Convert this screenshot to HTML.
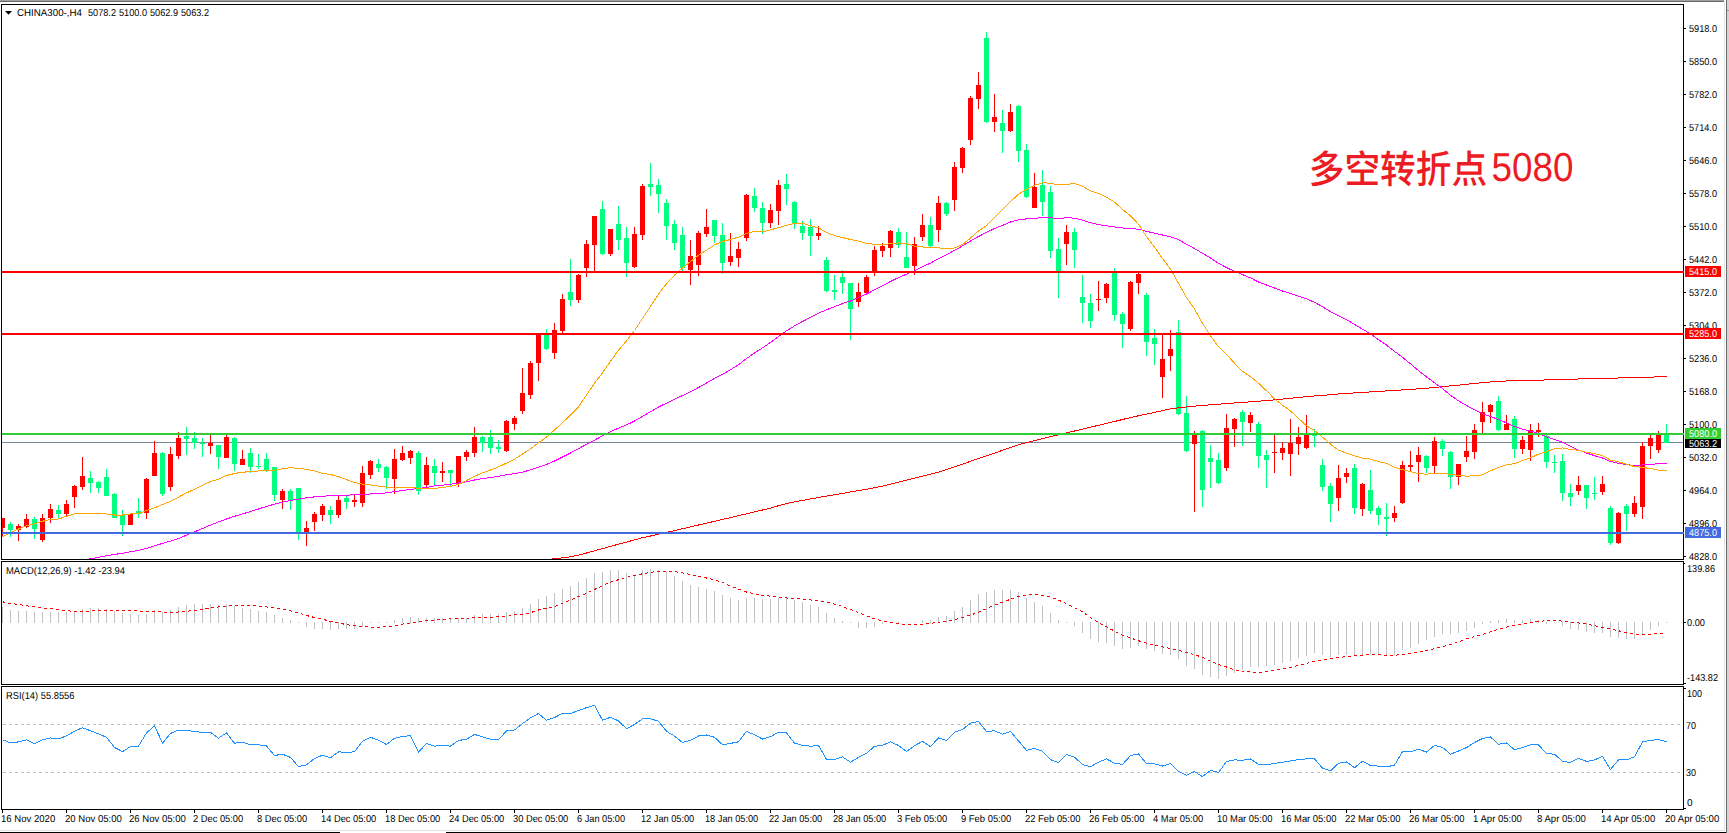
<!DOCTYPE html><html><head><meta charset="utf-8"><title>CHINA300 H4</title>
<style>html,body{margin:0;padding:0;background:#fff;overflow:hidden}svg{display:block}text{font-family:"Liberation Sans","Noto Sans CJK SC",sans-serif;font-size:10px;fill:#000;text-rendering:geometricPrecision}.cn{font-family:"Liberation Sans","Noto Sans CJK SC",sans-serif;font-size:35.7px;fill:#ed1c24;font-weight:500}</style></head><body>
<svg width="1729" height="833" viewBox="0 0 1729 833">
<defs><clipPath id="cm"><rect x="2" y="5" width="1681" height="554"/></clipPath><clipPath id="cd"><rect x="2" y="562" width="1681" height="122"/></clipPath><clipPath id="cr"><rect x="2" y="687" width="1681" height="122"/></clipPath></defs>
<rect x="0" y="0" width="1729" height="833" fill="#fff"/>
<g shape-rendering="crispEdges">
<rect x="0" y="0" width="1724" height="1" fill="#a0a0a0"/>
<rect x="0" y="1" width="1724" height="1" fill="#696969"/>
<rect x="1724" y="2" width="1" height="829" fill="#e3e3e3"/>
<rect x="1726" y="0" width="1" height="833" fill="#696969"/>
<rect x="1727" y="0" width="2" height="833" fill="#d4d4d4"/>
<rect x="1727" y="10" width="2" height="1" fill="#a0a0a0"/>
<rect x="0" y="830" width="1725" height="1" fill="#e3e3e3"/>
<rect x="0" y="832" width="340" height="1" fill="#000"/>
<rect x="446" y="832" width="1280" height="1" fill="#000"/>
<rect x="1.5" y="4.5" width="1682" height="555" fill="none" stroke="#000" stroke-width="1"/>
<rect x="1.5" y="561.5" width="1682" height="123" fill="none" stroke="#000" stroke-width="1"/>
<rect x="1.5" y="686.5" width="1682" height="123" fill="none" stroke="#000" stroke-width="1"/>
</g>
<g clip-path="url(#cm)" shape-rendering="crispEdges">
<rect x="2" y="442" width="1681" height="1" fill="#778899"/>
<rect x="2" y="518" width="1" height="19" fill="#ff0000"/>
<rect x="0" y="518" width="5" height="10" fill="#ff0000"/>
<rect x="10" y="522" width="1" height="15" fill="#00ff7f"/>
<rect x="8" y="524" width="5" height="6" fill="#00ff7f"/>
<rect x="18" y="524" width="1" height="17" fill="#ff0000"/>
<rect x="16" y="526" width="5" height="4" fill="#ff0000"/>
<rect x="26" y="514" width="1" height="14" fill="#ff0000"/>
<rect x="24" y="519" width="5" height="8" fill="#ff0000"/>
<rect x="34" y="517" width="1" height="22" fill="#00ff7f"/>
<rect x="32" y="519" width="5" height="10" fill="#00ff7f"/>
<rect x="42" y="514" width="1" height="28" fill="#ff0000"/>
<rect x="40" y="518" width="5" height="22" fill="#ff0000"/>
<rect x="50" y="504" width="1" height="19" fill="#ff0000"/>
<rect x="48" y="509" width="5" height="9" fill="#ff0000"/>
<rect x="58" y="505" width="1" height="13" fill="#00ff7f"/>
<rect x="56" y="510" width="5" height="4" fill="#00ff7f"/>
<rect x="66" y="500" width="1" height="16" fill="#ff0000"/>
<rect x="64" y="504" width="5" height="10" fill="#ff0000"/>
<rect x="74" y="485" width="1" height="23" fill="#ff0000"/>
<rect x="72" y="486" width="5" height="11" fill="#ff0000"/>
<rect x="82" y="457" width="1" height="33" fill="#ff0000"/>
<rect x="80" y="476" width="5" height="11" fill="#ff0000"/>
<rect x="90" y="471" width="1" height="22" fill="#00ff7f"/>
<rect x="88" y="478" width="5" height="5" fill="#00ff7f"/>
<rect x="98" y="481" width="1" height="12" fill="#00ff7f"/>
<rect x="96" y="482" width="5" height="6" fill="#00ff7f"/>
<rect x="106" y="469" width="1" height="27" fill="#00ff7f"/>
<rect x="104" y="477" width="5" height="19" fill="#00ff7f"/>
<rect x="114" y="493" width="1" height="25" fill="#00ff7f"/>
<rect x="112" y="494" width="5" height="24" fill="#00ff7f"/>
<rect x="122" y="510" width="1" height="26" fill="#00ff7f"/>
<rect x="120" y="515" width="5" height="10" fill="#00ff7f"/>
<rect x="130" y="514" width="1" height="11" fill="#ff0000"/>
<rect x="128" y="514" width="5" height="11" fill="#ff0000"/>
<rect x="138" y="498" width="1" height="20" fill="#00ff7f"/>
<rect x="136" y="511" width="5" height="3" fill="#00ff7f"/>
<rect x="146" y="478" width="1" height="41" fill="#ff0000"/>
<rect x="144" y="479" width="5" height="34" fill="#ff0000"/>
<rect x="154" y="441" width="1" height="35" fill="#ff0000"/>
<rect x="152" y="453" width="5" height="23" fill="#ff0000"/>
<rect x="162" y="452" width="1" height="44" fill="#00ff7f"/>
<rect x="160" y="453" width="5" height="41" fill="#00ff7f"/>
<rect x="170" y="447" width="1" height="44" fill="#ff0000"/>
<rect x="168" y="454" width="5" height="33" fill="#ff0000"/>
<rect x="178" y="432" width="1" height="27" fill="#ff0000"/>
<rect x="176" y="438" width="5" height="18" fill="#ff0000"/>
<rect x="186" y="427" width="1" height="28" fill="#00ff7f"/>
<rect x="184" y="436" width="5" height="3" fill="#00ff7f"/>
<rect x="194" y="432" width="1" height="17" fill="#00ff7f"/>
<rect x="192" y="438" width="5" height="5" fill="#00ff7f"/>
<rect x="202" y="438" width="1" height="19" fill="#00ff7f"/>
<rect x="200" y="443" width="5" height="1" fill="#00ff7f"/>
<rect x="210" y="435" width="1" height="19" fill="#ff0000"/>
<rect x="208" y="443" width="5" height="3" fill="#ff0000"/>
<rect x="218" y="445" width="1" height="24" fill="#00ff7f"/>
<rect x="216" y="445" width="5" height="12" fill="#00ff7f"/>
<rect x="226" y="435" width="1" height="23" fill="#ff0000"/>
<rect x="224" y="437" width="5" height="21" fill="#ff0000"/>
<rect x="234" y="437" width="1" height="34" fill="#00ff7f"/>
<rect x="232" y="438" width="5" height="26" fill="#00ff7f"/>
<rect x="242" y="450" width="1" height="15" fill="#ff0000"/>
<rect x="240" y="459" width="5" height="6" fill="#ff0000"/>
<rect x="250" y="448" width="1" height="25" fill="#00ff7f"/>
<rect x="248" y="453" width="5" height="14" fill="#00ff7f"/>
<rect x="258" y="454" width="1" height="15" fill="#00ff7f"/>
<rect x="256" y="466" width="5" height="1" fill="#00ff7f"/>
<rect x="266" y="453" width="1" height="19" fill="#00ff7f"/>
<rect x="264" y="459" width="5" height="11" fill="#00ff7f"/>
<rect x="274" y="467" width="1" height="34" fill="#00ff7f"/>
<rect x="272" y="467" width="5" height="28" fill="#00ff7f"/>
<rect x="282" y="489" width="1" height="20" fill="#ff0000"/>
<rect x="280" y="491" width="5" height="9" fill="#ff0000"/>
<rect x="290" y="489" width="1" height="21" fill="#00ff7f"/>
<rect x="288" y="491" width="5" height="10" fill="#00ff7f"/>
<rect x="298" y="488" width="1" height="52" fill="#00ff7f"/>
<rect x="296" y="488" width="5" height="45" fill="#00ff7f"/>
<rect x="306" y="521" width="1" height="25" fill="#ff0000"/>
<rect x="304" y="528" width="5" height="5" fill="#ff0000"/>
<rect x="314" y="512" width="1" height="19" fill="#ff0000"/>
<rect x="312" y="514" width="5" height="8" fill="#ff0000"/>
<rect x="322" y="504" width="1" height="17" fill="#ff0000"/>
<rect x="320" y="506" width="5" height="9" fill="#ff0000"/>
<rect x="330" y="506" width="1" height="18" fill="#00ff7f"/>
<rect x="328" y="510" width="5" height="5" fill="#00ff7f"/>
<rect x="338" y="495" width="1" height="23" fill="#ff0000"/>
<rect x="336" y="500" width="5" height="15" fill="#ff0000"/>
<rect x="346" y="495" width="1" height="14" fill="#00ff7f"/>
<rect x="344" y="498" width="5" height="4" fill="#00ff7f"/>
<rect x="354" y="495" width="1" height="12" fill="#ff0000"/>
<rect x="352" y="500" width="5" height="2" fill="#ff0000"/>
<rect x="362" y="466" width="1" height="41" fill="#ff0000"/>
<rect x="360" y="473" width="5" height="30" fill="#ff0000"/>
<rect x="370" y="460" width="1" height="19" fill="#ff0000"/>
<rect x="368" y="461" width="5" height="14" fill="#ff0000"/>
<rect x="378" y="459" width="1" height="13" fill="#00ff7f"/>
<rect x="376" y="464" width="5" height="4" fill="#00ff7f"/>
<rect x="386" y="466" width="1" height="23" fill="#00ff7f"/>
<rect x="384" y="467" width="5" height="11" fill="#00ff7f"/>
<rect x="394" y="449" width="1" height="45" fill="#ff0000"/>
<rect x="392" y="459" width="5" height="20" fill="#ff0000"/>
<rect x="402" y="446" width="1" height="15" fill="#ff0000"/>
<rect x="400" y="453" width="5" height="7" fill="#ff0000"/>
<rect x="410" y="450" width="1" height="14" fill="#ff0000"/>
<rect x="408" y="451" width="5" height="7" fill="#ff0000"/>
<rect x="418" y="451" width="1" height="44" fill="#00ff7f"/>
<rect x="416" y="453" width="5" height="38" fill="#00ff7f"/>
<rect x="426" y="457" width="1" height="30" fill="#ff0000"/>
<rect x="424" y="465" width="5" height="20" fill="#ff0000"/>
<rect x="434" y="459" width="1" height="27" fill="#00ff7f"/>
<rect x="432" y="466" width="5" height="7" fill="#00ff7f"/>
<rect x="442" y="462" width="1" height="20" fill="#ff0000"/>
<rect x="440" y="471" width="5" height="2" fill="#ff0000"/>
<rect x="450" y="470" width="1" height="16" fill="#00ff7f"/>
<rect x="448" y="470" width="5" height="3" fill="#00ff7f"/>
<rect x="458" y="456" width="1" height="31" fill="#ff0000"/>
<rect x="456" y="456" width="5" height="27" fill="#ff0000"/>
<rect x="466" y="450" width="1" height="11" fill="#ff0000"/>
<rect x="464" y="452" width="5" height="5" fill="#ff0000"/>
<rect x="474" y="427" width="1" height="30" fill="#ff0000"/>
<rect x="472" y="437" width="5" height="16" fill="#ff0000"/>
<rect x="482" y="436" width="1" height="16" fill="#00ff7f"/>
<rect x="480" y="437" width="5" height="6" fill="#00ff7f"/>
<rect x="490" y="430" width="1" height="24" fill="#00ff7f"/>
<rect x="488" y="437" width="5" height="11" fill="#00ff7f"/>
<rect x="498" y="440" width="1" height="13" fill="#00ff7f"/>
<rect x="496" y="447" width="5" height="2" fill="#00ff7f"/>
<rect x="506" y="420" width="1" height="32" fill="#ff0000"/>
<rect x="504" y="421" width="5" height="30" fill="#ff0000"/>
<rect x="514" y="416" width="1" height="14" fill="#ff0000"/>
<rect x="512" y="418" width="5" height="6" fill="#ff0000"/>
<rect x="522" y="368" width="1" height="46" fill="#ff0000"/>
<rect x="520" y="393" width="5" height="18" fill="#ff0000"/>
<rect x="530" y="361" width="1" height="38" fill="#ff0000"/>
<rect x="528" y="363" width="5" height="32" fill="#ff0000"/>
<rect x="538" y="334" width="1" height="47" fill="#ff0000"/>
<rect x="536" y="334" width="5" height="29" fill="#ff0000"/>
<rect x="546" y="329" width="1" height="21" fill="#00ff7f"/>
<rect x="544" y="335" width="5" height="14" fill="#00ff7f"/>
<rect x="554" y="323" width="1" height="36" fill="#ff0000"/>
<rect x="552" y="330" width="5" height="23" fill="#ff0000"/>
<rect x="562" y="294" width="1" height="40" fill="#ff0000"/>
<rect x="560" y="299" width="5" height="32" fill="#ff0000"/>
<rect x="570" y="259" width="1" height="47" fill="#00ff7f"/>
<rect x="568" y="292" width="5" height="8" fill="#00ff7f"/>
<rect x="578" y="274" width="1" height="29" fill="#ff0000"/>
<rect x="576" y="275" width="5" height="25" fill="#ff0000"/>
<rect x="586" y="240" width="1" height="37" fill="#ff0000"/>
<rect x="584" y="244" width="5" height="24" fill="#ff0000"/>
<rect x="594" y="216" width="1" height="56" fill="#ff0000"/>
<rect x="592" y="216" width="5" height="29" fill="#ff0000"/>
<rect x="602" y="201" width="1" height="54" fill="#00ff7f"/>
<rect x="600" y="209" width="5" height="45" fill="#00ff7f"/>
<rect x="610" y="229" width="1" height="27" fill="#ff0000"/>
<rect x="608" y="229" width="5" height="25" fill="#ff0000"/>
<rect x="618" y="206" width="1" height="44" fill="#00ff7f"/>
<rect x="616" y="224" width="5" height="16" fill="#00ff7f"/>
<rect x="626" y="227" width="1" height="50" fill="#00ff7f"/>
<rect x="624" y="238" width="5" height="25" fill="#00ff7f"/>
<rect x="634" y="227" width="1" height="41" fill="#ff0000"/>
<rect x="632" y="234" width="5" height="33" fill="#ff0000"/>
<rect x="642" y="184" width="1" height="56" fill="#ff0000"/>
<rect x="640" y="186" width="5" height="49" fill="#ff0000"/>
<rect x="650" y="163" width="1" height="33" fill="#00ff7f"/>
<rect x="648" y="184" width="5" height="3" fill="#00ff7f"/>
<rect x="658" y="179" width="1" height="34" fill="#00ff7f"/>
<rect x="656" y="185" width="5" height="9" fill="#00ff7f"/>
<rect x="666" y="199" width="1" height="41" fill="#00ff7f"/>
<rect x="664" y="203" width="5" height="23" fill="#00ff7f"/>
<rect x="674" y="220" width="1" height="30" fill="#00ff7f"/>
<rect x="672" y="224" width="5" height="19" fill="#00ff7f"/>
<rect x="682" y="227" width="1" height="44" fill="#00ff7f"/>
<rect x="680" y="235" width="5" height="33" fill="#00ff7f"/>
<rect x="690" y="240" width="1" height="45" fill="#ff0000"/>
<rect x="688" y="256" width="5" height="14" fill="#ff0000"/>
<rect x="698" y="231" width="1" height="45" fill="#ff0000"/>
<rect x="696" y="233" width="5" height="32" fill="#ff0000"/>
<rect x="706" y="209" width="1" height="28" fill="#ff0000"/>
<rect x="704" y="227" width="5" height="7" fill="#ff0000"/>
<rect x="714" y="220" width="1" height="23" fill="#00ff7f"/>
<rect x="712" y="220" width="5" height="16" fill="#00ff7f"/>
<rect x="722" y="223" width="1" height="51" fill="#00ff7f"/>
<rect x="720" y="235" width="5" height="28" fill="#00ff7f"/>
<rect x="730" y="233" width="1" height="33" fill="#ff0000"/>
<rect x="728" y="256" width="5" height="6" fill="#ff0000"/>
<rect x="738" y="242" width="1" height="25" fill="#ff0000"/>
<rect x="736" y="249" width="5" height="9" fill="#ff0000"/>
<rect x="746" y="194" width="1" height="47" fill="#ff0000"/>
<rect x="744" y="195" width="5" height="43" fill="#ff0000"/>
<rect x="754" y="188" width="1" height="24" fill="#00ff7f"/>
<rect x="752" y="196" width="5" height="12" fill="#00ff7f"/>
<rect x="762" y="202" width="1" height="32" fill="#00ff7f"/>
<rect x="760" y="208" width="5" height="15" fill="#00ff7f"/>
<rect x="770" y="204" width="1" height="24" fill="#ff0000"/>
<rect x="768" y="210" width="5" height="13" fill="#ff0000"/>
<rect x="778" y="180" width="1" height="45" fill="#ff0000"/>
<rect x="776" y="185" width="5" height="26" fill="#ff0000"/>
<rect x="786" y="174" width="1" height="31" fill="#00ff7f"/>
<rect x="784" y="184" width="5" height="5" fill="#00ff7f"/>
<rect x="794" y="201" width="1" height="28" fill="#00ff7f"/>
<rect x="792" y="202" width="5" height="22" fill="#00ff7f"/>
<rect x="802" y="221" width="1" height="19" fill="#00ff7f"/>
<rect x="800" y="226" width="5" height="7" fill="#00ff7f"/>
<rect x="810" y="219" width="1" height="37" fill="#00ff7f"/>
<rect x="808" y="227" width="5" height="9" fill="#00ff7f"/>
<rect x="818" y="226" width="1" height="14" fill="#ff0000"/>
<rect x="816" y="233" width="5" height="3" fill="#ff0000"/>
<rect x="826" y="257" width="1" height="35" fill="#00ff7f"/>
<rect x="824" y="260" width="5" height="31" fill="#00ff7f"/>
<rect x="834" y="275" width="1" height="25" fill="#00ff7f"/>
<rect x="832" y="290" width="5" height="2" fill="#00ff7f"/>
<rect x="842" y="270" width="1" height="24" fill="#00ff7f"/>
<rect x="840" y="277" width="5" height="6" fill="#00ff7f"/>
<rect x="850" y="283" width="1" height="57" fill="#00ff7f"/>
<rect x="848" y="283" width="5" height="26" fill="#00ff7f"/>
<rect x="858" y="283" width="1" height="24" fill="#ff0000"/>
<rect x="856" y="292" width="5" height="10" fill="#ff0000"/>
<rect x="866" y="275" width="1" height="19" fill="#ff0000"/>
<rect x="864" y="277" width="5" height="16" fill="#ff0000"/>
<rect x="874" y="246" width="1" height="30" fill="#ff0000"/>
<rect x="872" y="250" width="5" height="22" fill="#ff0000"/>
<rect x="882" y="243" width="1" height="14" fill="#ff0000"/>
<rect x="880" y="246" width="5" height="5" fill="#ff0000"/>
<rect x="890" y="230" width="1" height="27" fill="#ff0000"/>
<rect x="888" y="231" width="5" height="17" fill="#ff0000"/>
<rect x="898" y="228" width="1" height="20" fill="#00ff7f"/>
<rect x="896" y="232" width="5" height="13" fill="#00ff7f"/>
<rect x="906" y="232" width="1" height="36" fill="#00ff7f"/>
<rect x="904" y="257" width="5" height="11" fill="#00ff7f"/>
<rect x="914" y="237" width="1" height="38" fill="#ff0000"/>
<rect x="912" y="244" width="5" height="22" fill="#ff0000"/>
<rect x="922" y="214" width="1" height="27" fill="#ff0000"/>
<rect x="920" y="225" width="5" height="12" fill="#ff0000"/>
<rect x="930" y="217" width="1" height="31" fill="#00ff7f"/>
<rect x="928" y="225" width="5" height="21" fill="#00ff7f"/>
<rect x="938" y="196" width="1" height="46" fill="#ff0000"/>
<rect x="936" y="203" width="5" height="27" fill="#ff0000"/>
<rect x="946" y="202" width="1" height="14" fill="#00ff7f"/>
<rect x="944" y="203" width="5" height="11" fill="#00ff7f"/>
<rect x="954" y="162" width="1" height="49" fill="#ff0000"/>
<rect x="952" y="167" width="5" height="33" fill="#ff0000"/>
<rect x="962" y="147" width="1" height="26" fill="#ff0000"/>
<rect x="960" y="148" width="5" height="20" fill="#ff0000"/>
<rect x="970" y="96" width="1" height="49" fill="#ff0000"/>
<rect x="968" y="98" width="5" height="42" fill="#ff0000"/>
<rect x="978" y="72" width="1" height="37" fill="#ff0000"/>
<rect x="976" y="85" width="5" height="14" fill="#ff0000"/>
<rect x="986" y="32" width="1" height="91" fill="#00ff7f"/>
<rect x="984" y="38" width="5" height="84" fill="#00ff7f"/>
<rect x="994" y="94" width="1" height="38" fill="#ff0000"/>
<rect x="992" y="117" width="5" height="5" fill="#ff0000"/>
<rect x="1002" y="110" width="1" height="43" fill="#00ff7f"/>
<rect x="1000" y="123" width="5" height="8" fill="#00ff7f"/>
<rect x="1010" y="104" width="1" height="28" fill="#ff0000"/>
<rect x="1008" y="112" width="5" height="19" fill="#ff0000"/>
<rect x="1018" y="105" width="1" height="57" fill="#00ff7f"/>
<rect x="1016" y="106" width="5" height="45" fill="#00ff7f"/>
<rect x="1026" y="144" width="1" height="54" fill="#00ff7f"/>
<rect x="1024" y="150" width="5" height="47" fill="#00ff7f"/>
<rect x="1034" y="173" width="1" height="35" fill="#ff0000"/>
<rect x="1032" y="187" width="5" height="21" fill="#ff0000"/>
<rect x="1042" y="170" width="1" height="46" fill="#00ff7f"/>
<rect x="1040" y="185" width="5" height="17" fill="#00ff7f"/>
<rect x="1050" y="186" width="1" height="72" fill="#00ff7f"/>
<rect x="1048" y="192" width="5" height="59" fill="#00ff7f"/>
<rect x="1058" y="238" width="1" height="60" fill="#00ff7f"/>
<rect x="1056" y="249" width="5" height="23" fill="#00ff7f"/>
<rect x="1066" y="225" width="1" height="40" fill="#ff0000"/>
<rect x="1064" y="232" width="5" height="12" fill="#ff0000"/>
<rect x="1074" y="228" width="1" height="40" fill="#00ff7f"/>
<rect x="1072" y="232" width="5" height="18" fill="#00ff7f"/>
<rect x="1082" y="275" width="1" height="48" fill="#00ff7f"/>
<rect x="1080" y="297" width="5" height="6" fill="#00ff7f"/>
<rect x="1090" y="294" width="1" height="34" fill="#00ff7f"/>
<rect x="1088" y="303" width="5" height="18" fill="#00ff7f"/>
<rect x="1098" y="281" width="1" height="30" fill="#ff0000"/>
<rect x="1096" y="299" width="5" height="1" fill="#ff0000"/>
<rect x="1106" y="283" width="1" height="20" fill="#ff0000"/>
<rect x="1104" y="284" width="5" height="14" fill="#ff0000"/>
<rect x="1114" y="268" width="1" height="53" fill="#00ff7f"/>
<rect x="1112" y="273" width="5" height="42" fill="#00ff7f"/>
<rect x="1122" y="312" width="1" height="36" fill="#00ff7f"/>
<rect x="1120" y="314" width="5" height="10" fill="#00ff7f"/>
<rect x="1130" y="281" width="1" height="50" fill="#ff0000"/>
<rect x="1128" y="282" width="5" height="47" fill="#ff0000"/>
<rect x="1138" y="272" width="1" height="22" fill="#ff0000"/>
<rect x="1136" y="274" width="5" height="9" fill="#ff0000"/>
<rect x="1146" y="293" width="1" height="63" fill="#00ff7f"/>
<rect x="1144" y="295" width="5" height="47" fill="#00ff7f"/>
<rect x="1154" y="329" width="1" height="36" fill="#00ff7f"/>
<rect x="1152" y="338" width="5" height="6" fill="#00ff7f"/>
<rect x="1162" y="335" width="1" height="63" fill="#ff0000"/>
<rect x="1160" y="359" width="5" height="18" fill="#ff0000"/>
<rect x="1170" y="330" width="1" height="41" fill="#ff0000"/>
<rect x="1168" y="349" width="5" height="7" fill="#ff0000"/>
<rect x="1178" y="320" width="1" height="95" fill="#00ff7f"/>
<rect x="1176" y="332" width="5" height="82" fill="#00ff7f"/>
<rect x="1186" y="396" width="1" height="56" fill="#00ff7f"/>
<rect x="1184" y="413" width="5" height="38" fill="#00ff7f"/>
<rect x="1194" y="431" width="1" height="81" fill="#ff0000"/>
<rect x="1192" y="435" width="5" height="9" fill="#ff0000"/>
<rect x="1202" y="430" width="1" height="77" fill="#00ff7f"/>
<rect x="1200" y="431" width="5" height="59" fill="#00ff7f"/>
<rect x="1210" y="445" width="1" height="43" fill="#00ff7f"/>
<rect x="1208" y="458" width="5" height="4" fill="#00ff7f"/>
<rect x="1218" y="453" width="1" height="31" fill="#00ff7f"/>
<rect x="1216" y="460" width="5" height="23" fill="#00ff7f"/>
<rect x="1226" y="414" width="1" height="57" fill="#ff0000"/>
<rect x="1224" y="428" width="5" height="40" fill="#ff0000"/>
<rect x="1234" y="418" width="1" height="29" fill="#ff0000"/>
<rect x="1232" y="419" width="5" height="10" fill="#ff0000"/>
<rect x="1242" y="410" width="1" height="36" fill="#00ff7f"/>
<rect x="1240" y="412" width="5" height="10" fill="#00ff7f"/>
<rect x="1250" y="412" width="1" height="20" fill="#ff0000"/>
<rect x="1248" y="415" width="5" height="8" fill="#ff0000"/>
<rect x="1258" y="422" width="1" height="46" fill="#00ff7f"/>
<rect x="1256" y="424" width="5" height="32" fill="#00ff7f"/>
<rect x="1266" y="450" width="1" height="38" fill="#00ff7f"/>
<rect x="1264" y="455" width="5" height="5" fill="#00ff7f"/>
<rect x="1274" y="435" width="1" height="38" fill="#ff0000"/>
<rect x="1272" y="452" width="5" height="1" fill="#ff0000"/>
<rect x="1282" y="442" width="1" height="18" fill="#ff0000"/>
<rect x="1280" y="448" width="5" height="5" fill="#ff0000"/>
<rect x="1290" y="419" width="1" height="57" fill="#ff0000"/>
<rect x="1288" y="443" width="5" height="11" fill="#ff0000"/>
<rect x="1298" y="427" width="1" height="28" fill="#ff0000"/>
<rect x="1296" y="437" width="5" height="7" fill="#ff0000"/>
<rect x="1306" y="415" width="1" height="34" fill="#ff0000"/>
<rect x="1304" y="435" width="5" height="13" fill="#ff0000"/>
<rect x="1314" y="429" width="1" height="18" fill="#00ff7f"/>
<rect x="1312" y="434" width="5" height="2" fill="#00ff7f"/>
<rect x="1322" y="459" width="1" height="32" fill="#00ff7f"/>
<rect x="1320" y="465" width="5" height="22" fill="#00ff7f"/>
<rect x="1330" y="483" width="1" height="39" fill="#00ff7f"/>
<rect x="1328" y="486" width="5" height="18" fill="#00ff7f"/>
<rect x="1338" y="465" width="1" height="46" fill="#ff0000"/>
<rect x="1336" y="478" width="5" height="20" fill="#ff0000"/>
<rect x="1346" y="468" width="1" height="15" fill="#ff0000"/>
<rect x="1344" y="473" width="5" height="4" fill="#ff0000"/>
<rect x="1354" y="464" width="1" height="50" fill="#00ff7f"/>
<rect x="1352" y="468" width="5" height="40" fill="#00ff7f"/>
<rect x="1362" y="483" width="1" height="33" fill="#ff0000"/>
<rect x="1360" y="484" width="5" height="25" fill="#ff0000"/>
<rect x="1370" y="470" width="1" height="44" fill="#00ff7f"/>
<rect x="1368" y="490" width="5" height="21" fill="#00ff7f"/>
<rect x="1378" y="506" width="1" height="19" fill="#00ff7f"/>
<rect x="1376" y="508" width="5" height="7" fill="#00ff7f"/>
<rect x="1386" y="503" width="1" height="33" fill="#00ff7f"/>
<rect x="1384" y="517" width="5" height="2" fill="#00ff7f"/>
<rect x="1394" y="506" width="1" height="16" fill="#ff0000"/>
<rect x="1392" y="513" width="5" height="5" fill="#ff0000"/>
<rect x="1402" y="461" width="1" height="43" fill="#ff0000"/>
<rect x="1400" y="465" width="5" height="38" fill="#ff0000"/>
<rect x="1410" y="451" width="1" height="20" fill="#ff0000"/>
<rect x="1408" y="465" width="5" height="2" fill="#ff0000"/>
<rect x="1418" y="447" width="1" height="35" fill="#ff0000"/>
<rect x="1416" y="455" width="5" height="7" fill="#ff0000"/>
<rect x="1426" y="455" width="1" height="18" fill="#00ff7f"/>
<rect x="1424" y="456" width="5" height="12" fill="#00ff7f"/>
<rect x="1434" y="437" width="1" height="37" fill="#ff0000"/>
<rect x="1432" y="441" width="5" height="25" fill="#ff0000"/>
<rect x="1442" y="439" width="1" height="17" fill="#00ff7f"/>
<rect x="1440" y="441" width="5" height="8" fill="#00ff7f"/>
<rect x="1450" y="451" width="1" height="38" fill="#00ff7f"/>
<rect x="1448" y="452" width="5" height="25" fill="#00ff7f"/>
<rect x="1458" y="464" width="1" height="21" fill="#ff0000"/>
<rect x="1456" y="464" width="5" height="13" fill="#ff0000"/>
<rect x="1466" y="436" width="1" height="26" fill="#ff0000"/>
<rect x="1464" y="451" width="5" height="6" fill="#ff0000"/>
<rect x="1474" y="424" width="1" height="35" fill="#ff0000"/>
<rect x="1472" y="430" width="5" height="22" fill="#ff0000"/>
<rect x="1482" y="402" width="1" height="31" fill="#ff0000"/>
<rect x="1480" y="412" width="5" height="10" fill="#ff0000"/>
<rect x="1490" y="404" width="1" height="19" fill="#ff0000"/>
<rect x="1488" y="405" width="5" height="7" fill="#ff0000"/>
<rect x="1498" y="396" width="1" height="35" fill="#00ff7f"/>
<rect x="1496" y="401" width="5" height="29" fill="#00ff7f"/>
<rect x="1506" y="415" width="1" height="15" fill="#ff0000"/>
<rect x="1504" y="424" width="5" height="6" fill="#ff0000"/>
<rect x="1514" y="416" width="1" height="42" fill="#00ff7f"/>
<rect x="1512" y="419" width="5" height="30" fill="#00ff7f"/>
<rect x="1522" y="436" width="1" height="18" fill="#ff0000"/>
<rect x="1520" y="440" width="5" height="9" fill="#ff0000"/>
<rect x="1530" y="424" width="1" height="37" fill="#ff0000"/>
<rect x="1528" y="430" width="5" height="20" fill="#ff0000"/>
<rect x="1538" y="423" width="1" height="14" fill="#ff0000"/>
<rect x="1536" y="430" width="5" height="2" fill="#ff0000"/>
<rect x="1546" y="435" width="1" height="33" fill="#00ff7f"/>
<rect x="1544" y="436" width="5" height="26" fill="#00ff7f"/>
<rect x="1554" y="455" width="1" height="18" fill="#00ff7f"/>
<rect x="1552" y="462" width="5" height="1" fill="#00ff7f"/>
<rect x="1562" y="454" width="1" height="47" fill="#00ff7f"/>
<rect x="1560" y="461" width="5" height="32" fill="#00ff7f"/>
<rect x="1570" y="484" width="1" height="22" fill="#00ff7f"/>
<rect x="1568" y="493" width="5" height="4" fill="#00ff7f"/>
<rect x="1578" y="476" width="1" height="19" fill="#ff0000"/>
<rect x="1576" y="485" width="5" height="6" fill="#ff0000"/>
<rect x="1586" y="485" width="1" height="24" fill="#00ff7f"/>
<rect x="1584" y="485" width="5" height="13" fill="#00ff7f"/>
<rect x="1594" y="477" width="1" height="23" fill="#00ff7f"/>
<rect x="1592" y="493" width="5" height="1" fill="#00ff7f"/>
<rect x="1602" y="476" width="1" height="19" fill="#ff0000"/>
<rect x="1600" y="484" width="5" height="8" fill="#ff0000"/>
<rect x="1610" y="506" width="1" height="39" fill="#00ff7f"/>
<rect x="1608" y="508" width="5" height="35" fill="#00ff7f"/>
<rect x="1618" y="512" width="1" height="32" fill="#ff0000"/>
<rect x="1616" y="513" width="5" height="30" fill="#ff0000"/>
<rect x="1626" y="504" width="1" height="27" fill="#00ff7f"/>
<rect x="1624" y="506" width="5" height="8" fill="#00ff7f"/>
<rect x="1634" y="496" width="1" height="21" fill="#ff0000"/>
<rect x="1632" y="503" width="5" height="11" fill="#ff0000"/>
<rect x="1642" y="442" width="1" height="77" fill="#ff0000"/>
<rect x="1640" y="446" width="5" height="61" fill="#ff0000"/>
<rect x="1650" y="435" width="1" height="24" fill="#ff0000"/>
<rect x="1648" y="438" width="5" height="8" fill="#ff0000"/>
<rect x="1658" y="431" width="1" height="22" fill="#ff0000"/>
<rect x="1656" y="435" width="5" height="15" fill="#ff0000"/>
<rect x="1666" y="424" width="1" height="19" fill="#00ff7f"/>
<rect x="1664" y="435" width="5" height="8" fill="#00ff7f"/>
</g>
<g clip-path="url(#cm)" fill="none" stroke-width="1" shape-rendering="crispEdges">
<polyline points="2.5,566.5 10.5,566.5 18.5,566.5 26.5,566.5 34.5,566.5 42.5,566.5 50.5,566.5 58.5,566.5 66.5,566.5 74.5,566.5 82.5,566.5 90.5,566.5 98.5,566.5 106.5,566.5 114.5,566.5 122.5,566.5 130.5,566.5 138.5,566.5 146.5,566.5 154.5,566.5 162.5,566.5 170.5,566.5 178.5,566.5 186.5,566.5 194.5,566.5 202.5,566.5 210.5,566.5 218.5,566.5 226.5,566.5 234.5,566.5 242.5,566.5 250.5,566.5 258.5,566.5 266.5,566.5 274.5,566.5 282.5,566.5 290.5,566.5 298.5,566.5 306.5,566.5 314.5,566.5 322.5,566.5 330.5,566.5 338.5,566.5 346.5,566.5 354.5,566.5 362.5,566.5 370.5,566.5 378.5,566.5 386.5,566.5 394.5,566.5 402.5,566.5 410.5,566.5 418.5,566.5 426.5,566.5 434.5,566.5 442.5,566.5 450.5,566.5 458.5,566.5 466.5,566.5 474.5,566.5 482.5,566.5 490.5,566.5 498.5,566.5 506.5,565.6 514.5,564.5 522.5,563.3 530.5,562.1 538.5,561.0 546.5,559.8 554.5,558.7 562.5,557.8 570.5,556.8 578.5,555.1 586.5,553.0 594.5,550.8 602.5,548.6 610.5,546.4 618.5,544.2 626.5,542.1 634.5,539.9 642.5,537.7 650.5,536.0 658.5,534.2 666.5,532.4 674.5,530.6 682.5,528.7 690.5,526.9 698.5,525.0 706.5,523.2 714.5,521.3 722.5,519.4 730.5,517.6 738.5,515.7 746.5,513.8 754.5,511.9 762.5,510.0 770.5,508.1 778.5,505.7 786.5,503.5 794.5,502.0 802.5,500.4 810.5,498.9 818.5,497.5 826.5,496.1 834.5,494.7 842.5,493.4 850.5,492.0 858.5,490.6 866.5,489.2 874.5,487.8 882.5,486.1 890.5,484.1 898.5,482.1 906.5,480.1 914.5,478.1 922.5,476.1 930.5,474.1 938.5,472.1 946.5,469.5 954.5,466.8 962.5,464.1 970.5,461.3 978.5,458.6 986.5,455.8 994.5,453.1 1002.5,450.3 1010.5,447.6 1018.5,444.8 1026.5,442.6 1034.5,440.6 1042.5,438.7 1050.5,436.7 1058.5,434.8 1066.5,432.9 1074.5,431.0 1082.5,429.1 1090.5,427.2 1098.5,425.3 1106.5,423.4 1114.5,421.5 1122.5,419.5 1130.5,417.6 1138.5,415.8 1146.5,414.1 1154.5,412.4 1162.5,410.6 1170.5,408.9 1178.5,407.8 1186.5,407.0 1194.5,406.2 1202.5,405.4 1210.5,404.8 1218.5,404.2 1226.5,403.6 1234.5,403.0 1242.5,402.4 1250.5,401.8 1258.5,401.2 1266.5,400.6 1274.5,399.9 1282.5,399.1 1290.5,398.3 1298.5,397.5 1306.5,396.7 1314.5,396.0 1322.5,395.4 1330.5,394.7 1338.5,394.0 1346.5,393.4 1354.5,392.9 1362.5,392.4 1370.5,391.9 1378.5,391.4 1386.5,390.9 1394.5,390.4 1402.5,389.9 1410.5,389.4 1418.5,388.8 1426.5,388.2 1434.5,387.5 1442.5,386.7 1450.5,385.9 1458.5,385.2 1466.5,384.3 1474.5,383.5 1482.5,382.7 1490.5,382.0 1498.5,381.4 1506.5,381.0 1514.5,380.8 1522.5,380.6 1530.5,380.4 1538.5,380.2 1546.5,379.9 1554.5,379.7 1562.5,379.4 1570.5,379.2 1578.5,379.0 1586.5,378.8 1594.5,378.6 1602.5,378.4 1610.5,378.2 1618.5,378.0 1626.5,377.8 1634.5,377.6 1642.5,377.3 1650.5,377.1 1658.5,376.9 1666.5,376.9" stroke="#ff0000"/>
<polyline points="2.5,565.5 10.5,565.5 18.5,565.5 26.5,565.5 34.5,565.5 42.5,565.5 50.5,565.5 58.5,565.5 66.5,564.1 74.5,562.3 82.5,560.5 90.5,558.8 98.5,557.3 106.5,555.8 114.5,554.5 122.5,553.2 130.5,551.8 138.5,550.3 146.5,548.5 154.5,545.9 162.5,543.4 170.5,541.1 178.5,538.5 186.5,535.2 194.5,531.9 202.5,528.5 210.5,525.1 218.5,521.9 226.5,519.0 234.5,516.3 242.5,513.9 250.5,511.6 258.5,509.0 266.5,506.4 274.5,504.2 282.5,502.2 290.5,500.5 298.5,499.1 306.5,497.8 314.5,496.9 322.5,496.3 330.5,495.7 338.5,495.3 346.5,495.1 354.5,494.9 362.5,494.5 370.5,494.0 378.5,493.5 386.5,492.9 394.5,491.7 402.5,490.5 410.5,489.4 418.5,488.5 426.5,487.5 434.5,486.0 442.5,485.2 450.5,484.2 458.5,482.9 466.5,481.7 474.5,480.0 482.5,478.6 490.5,477.5 498.5,476.3 506.5,474.8 514.5,473.6 522.5,472.1 530.5,469.9 538.5,467.1 546.5,464.4 554.5,461.0 562.5,457.0 570.5,453.0 578.5,448.7 586.5,444.4 594.5,440.1 602.5,435.8 610.5,431.7 618.5,428.1 626.5,424.9 634.5,421.1 642.5,416.4 650.5,411.7 658.5,407.0 666.5,403.1 674.5,399.1 682.5,395.6 690.5,391.8 698.5,387.5 706.5,383.1 714.5,378.4 722.5,374.3 730.5,369.8 738.5,364.7 746.5,358.6 754.5,353.0 762.5,347.9 770.5,342.4 778.5,336.6 786.5,330.9 794.5,325.9 802.5,321.5 810.5,317.4 818.5,313.2 826.5,309.8 834.5,306.7 842.5,303.6 850.5,301.0 858.5,297.4 866.5,294.0 874.5,289.9 882.5,285.8 890.5,281.5 898.5,277.6 906.5,274.2 914.5,270.7 922.5,266.8 930.5,263.1 938.5,258.7 946.5,254.9 954.5,250.3 962.5,245.9 970.5,241.0 978.5,236.5 986.5,232.4 994.5,228.5 1002.5,225.4 1010.5,222.0 1018.5,219.8 1026.5,218.9 1034.5,218.4 1042.5,217.4 1050.5,217.8 1058.5,218.4 1066.5,217.8 1074.5,218.1 1082.5,220.2 1090.5,222.7 1098.5,224.6 1106.5,225.7 1114.5,227.0 1122.5,228.0 1130.5,228.5 1138.5,229.2 1146.5,231.3 1154.5,233.2 1162.5,235.0 1170.5,236.7 1178.5,239.7 1186.5,244.3 1194.5,248.5 1202.5,253.3 1210.5,257.9 1218.5,263.3 1226.5,267.6 1234.5,271.2 1242.5,274.6 1250.5,277.9 1258.5,282.0 1266.5,285.0 1274.5,288.0 1282.5,291.0 1290.5,293.4 1298.5,296.1 1306.5,298.9 1314.5,302.3 1322.5,306.7 1330.5,311.6 1338.5,315.9 1346.5,319.6 1354.5,324.4 1362.5,329.1 1370.5,333.9 1378.5,339.6 1386.5,345.1 1394.5,351.4 1402.5,357.2 1410.5,363.8 1418.5,370.6 1426.5,376.9 1434.5,382.8 1442.5,388.5 1450.5,395.2 1458.5,400.9 1466.5,405.5 1474.5,409.9 1482.5,413.8 1490.5,416.6 1498.5,419.4 1506.5,422.9 1514.5,426.6 1522.5,429.1 1530.5,431.1 1538.5,433.4 1546.5,436.7 1554.5,439.4 1562.5,442.4 1570.5,446.3 1578.5,450.2 1586.5,453.0 1594.5,455.7 1602.5,458.0 1610.5,461.5 1618.5,463.3 1626.5,464.5 1634.5,465.7 1642.5,464.9 1650.5,464.5 1658.5,463.6 1666.5,463.9" stroke="#ff00ff"/>
<polyline points="2.5,536.8 10.5,532.5 18.5,529.0 26.5,525.7 34.5,523.9 42.5,521.2 50.5,519.6 58.5,519.0 66.5,516.3 74.5,513.9 82.5,513.9 90.5,513.9 98.5,513.9 106.5,513.9 114.5,515.0 122.5,515.0 130.5,513.9 138.5,513.8 146.5,510.4 154.5,507.8 162.5,504.5 170.5,501.4 178.5,497.1 186.5,492.9 194.5,489.2 202.5,485.2 210.5,481.6 218.5,479.1 226.5,475.5 234.5,473.5 242.5,472.2 250.5,471.7 258.5,471.0 266.5,470.1 274.5,470.1 282.5,468.8 290.5,467.7 298.5,468.5 306.5,469.3 314.5,470.9 322.5,473.5 330.5,474.5 338.5,476.6 346.5,479.6 354.5,482.6 362.5,484.1 370.5,484.9 378.5,486.1 386.5,487.1 394.5,488.1 402.5,487.6 410.5,487.3 418.5,488.4 426.5,488.4 434.5,488.5 442.5,487.4 450.5,486.5 458.5,484.4 466.5,480.6 474.5,476.3 482.5,472.8 490.5,470.0 498.5,466.9 506.5,463.1 514.5,459.2 522.5,454.1 530.5,448.8 538.5,442.8 546.5,437.1 554.5,430.1 562.5,422.5 570.5,415.2 578.5,406.8 586.5,395.1 594.5,383.2 602.5,372.8 610.5,361.3 618.5,350.2 626.5,340.9 634.5,330.5 642.5,318.6 650.5,306.4 658.5,294.3 666.5,283.7 674.5,275.2 682.5,268.0 690.5,261.5 698.5,255.3 706.5,250.2 714.5,244.8 722.5,241.5 730.5,239.5 738.5,237.1 746.5,233.3 754.5,231.5 762.5,231.8 770.5,229.8 778.5,227.7 786.5,225.3 794.5,223.4 802.5,223.3 810.5,225.6 818.5,227.9 826.5,232.5 834.5,235.6 842.5,237.5 850.5,239.5 858.5,241.2 866.5,243.3 874.5,244.4 882.5,244.9 890.5,243.5 898.5,242.9 906.5,243.7 914.5,246.1 922.5,246.9 930.5,248.0 938.5,247.7 946.5,249.0 954.5,248.0 962.5,244.5 970.5,238.1 978.5,230.9 986.5,225.6 994.5,217.4 1002.5,209.7 1010.5,201.6 1018.5,194.1 1026.5,189.5 1034.5,185.2 1042.5,182.9 1050.5,183.1 1058.5,185.0 1066.5,184.4 1074.5,183.5 1082.5,186.3 1090.5,190.8 1098.5,193.4 1106.5,197.3 1114.5,202.1 1122.5,209.5 1130.5,215.9 1138.5,224.3 1146.5,236.5 1154.5,247.0 1162.5,258.5 1170.5,269.0 1178.5,283.3 1186.5,297.6 1194.5,309.0 1202.5,323.4 1210.5,335.7 1218.5,346.8 1226.5,354.3 1234.5,363.2 1242.5,371.4 1250.5,376.7 1258.5,383.2 1266.5,390.8 1274.5,398.8 1282.5,405.2 1290.5,410.9 1298.5,418.3 1306.5,425.9 1314.5,430.4 1322.5,437.2 1330.5,444.1 1338.5,450.2 1346.5,453.1 1354.5,455.8 1362.5,458.1 1370.5,459.1 1378.5,461.6 1386.5,463.4 1394.5,467.4 1402.5,469.6 1410.5,471.7 1418.5,473.6 1426.5,474.2 1434.5,473.3 1442.5,473.1 1450.5,474.5 1458.5,475.5 1466.5,476.1 1474.5,475.9 1482.5,474.8 1490.5,470.9 1498.5,467.4 1506.5,464.8 1514.5,463.6 1522.5,460.5 1530.5,457.9 1538.5,454.1 1546.5,451.5 1554.5,448.9 1562.5,447.9 1570.5,449.4 1578.5,450.3 1586.5,452.3 1594.5,453.5 1602.5,455.6 1610.5,460.1 1618.5,461.8 1626.5,464.2 1634.5,466.6 1642.5,467.4 1650.5,468.6 1658.5,470.1 1666.5,470.7" stroke="#ffa500"/>
</g>
<g shape-rendering="crispEdges">
<rect x="2" y="271" width="1682" height="2" fill="#ff0000"/>
<rect x="2" y="333" width="1682" height="2" fill="#ff0000"/>
<rect x="2" y="433" width="1682" height="2" fill="#32cd32"/>
<rect x="2" y="532" width="1682" height="2" fill="#4169e1"/>
</g>
<path d="M5,11 L12,11 L8.5,14.8 Z" fill="#000"/>
<text x="17" y="16" textLength="65" lengthAdjust="spacingAndGlyphs">CHINA300-,H4</text>
<text x="88" y="16" textLength="28" lengthAdjust="spacingAndGlyphs">5078.2</text>
<text x="119" y="16" textLength="28" lengthAdjust="spacingAndGlyphs">5100.0</text>
<text x="150" y="16" textLength="28" lengthAdjust="spacingAndGlyphs">5062.9</text>
<text x="181" y="16" textLength="28" lengthAdjust="spacingAndGlyphs">5063.2</text>
<text class="cn" transform="translate(1308.7,183) scale(1,1.08)" x="0" y="0">多空转折点</text>
<text class="cn" x="1491.5" y="181" style="font-size:40.5px" textLength="82" lengthAdjust="spacingAndGlyphs">5080</text>
<g clip-path="url(#cd)" shape-rendering="crispEdges">
<rect x="2" y="607" width="1" height="16" fill="#c0c0c0"/>
<rect x="10" y="610" width="1" height="13" fill="#c0c0c0"/>
<rect x="18" y="611" width="1" height="12" fill="#c0c0c0"/>
<rect x="26" y="611" width="1" height="12" fill="#c0c0c0"/>
<rect x="34" y="612" width="1" height="11" fill="#c0c0c0"/>
<rect x="42" y="612" width="1" height="11" fill="#c0c0c0"/>
<rect x="50" y="612" width="1" height="11" fill="#c0c0c0"/>
<rect x="58" y="612" width="1" height="11" fill="#c0c0c0"/>
<rect x="66" y="612" width="1" height="11" fill="#c0c0c0"/>
<rect x="74" y="611" width="1" height="12" fill="#c0c0c0"/>
<rect x="82" y="609" width="1" height="14" fill="#c0c0c0"/>
<rect x="90" y="608" width="1" height="15" fill="#c0c0c0"/>
<rect x="98" y="608" width="1" height="15" fill="#c0c0c0"/>
<rect x="106" y="609" width="1" height="14" fill="#c0c0c0"/>
<rect x="114" y="611" width="1" height="12" fill="#c0c0c0"/>
<rect x="122" y="613" width="1" height="10" fill="#c0c0c0"/>
<rect x="130" y="614" width="1" height="9" fill="#c0c0c0"/>
<rect x="138" y="615" width="1" height="8" fill="#c0c0c0"/>
<rect x="146" y="614" width="1" height="9" fill="#c0c0c0"/>
<rect x="154" y="610" width="1" height="13" fill="#c0c0c0"/>
<rect x="162" y="612" width="1" height="11" fill="#c0c0c0"/>
<rect x="170" y="610" width="1" height="13" fill="#c0c0c0"/>
<rect x="178" y="607" width="1" height="16" fill="#c0c0c0"/>
<rect x="186" y="605" width="1" height="18" fill="#c0c0c0"/>
<rect x="194" y="604" width="1" height="19" fill="#c0c0c0"/>
<rect x="202" y="604" width="1" height="19" fill="#c0c0c0"/>
<rect x="210" y="604" width="1" height="19" fill="#c0c0c0"/>
<rect x="218" y="605" width="1" height="18" fill="#c0c0c0"/>
<rect x="226" y="604" width="1" height="19" fill="#c0c0c0"/>
<rect x="234" y="606" width="1" height="17" fill="#c0c0c0"/>
<rect x="242" y="608" width="1" height="15" fill="#c0c0c0"/>
<rect x="250" y="609" width="1" height="14" fill="#c0c0c0"/>
<rect x="258" y="611" width="1" height="12" fill="#c0c0c0"/>
<rect x="266" y="612" width="1" height="11" fill="#c0c0c0"/>
<rect x="274" y="615" width="1" height="8" fill="#c0c0c0"/>
<rect x="282" y="618" width="1" height="5" fill="#c0c0c0"/>
<rect x="290" y="620" width="1" height="3" fill="#c0c0c0"/>
<rect x="298" y="622" width="1" height="1" fill="#c0c0c0"/>
<rect x="306" y="622" width="1" height="5" fill="#c0c0c0"/>
<rect x="314" y="622" width="1" height="7" fill="#c0c0c0"/>
<rect x="322" y="622" width="1" height="7" fill="#c0c0c0"/>
<rect x="330" y="622" width="1" height="8" fill="#c0c0c0"/>
<rect x="338" y="622" width="1" height="7" fill="#c0c0c0"/>
<rect x="346" y="622" width="1" height="7" fill="#c0c0c0"/>
<rect x="354" y="622" width="1" height="7" fill="#c0c0c0"/>
<rect x="362" y="622" width="1" height="5" fill="#c0c0c0"/>
<rect x="370" y="622" width="1" height="1" fill="#c0c0c0"/>
<rect x="378" y="622" width="1" height="1" fill="#c0c0c0"/>
<rect x="386" y="622" width="1" height="1" fill="#c0c0c0"/>
<rect x="394" y="620" width="1" height="3" fill="#c0c0c0"/>
<rect x="402" y="618" width="1" height="5" fill="#c0c0c0"/>
<rect x="410" y="617" width="1" height="6" fill="#c0c0c0"/>
<rect x="418" y="618" width="1" height="5" fill="#c0c0c0"/>
<rect x="426" y="618" width="1" height="5" fill="#c0c0c0"/>
<rect x="434" y="618" width="1" height="5" fill="#c0c0c0"/>
<rect x="442" y="618" width="1" height="5" fill="#c0c0c0"/>
<rect x="450" y="619" width="1" height="4" fill="#c0c0c0"/>
<rect x="458" y="618" width="1" height="5" fill="#c0c0c0"/>
<rect x="466" y="618" width="1" height="5" fill="#c0c0c0"/>
<rect x="474" y="615" width="1" height="8" fill="#c0c0c0"/>
<rect x="482" y="614" width="1" height="9" fill="#c0c0c0"/>
<rect x="490" y="614" width="1" height="9" fill="#c0c0c0"/>
<rect x="498" y="614" width="1" height="9" fill="#c0c0c0"/>
<rect x="506" y="612" width="1" height="11" fill="#c0c0c0"/>
<rect x="514" y="611" width="1" height="12" fill="#c0c0c0"/>
<rect x="522" y="608" width="1" height="15" fill="#c0c0c0"/>
<rect x="530" y="604" width="1" height="19" fill="#c0c0c0"/>
<rect x="538" y="599" width="1" height="24" fill="#c0c0c0"/>
<rect x="546" y="596" width="1" height="27" fill="#c0c0c0"/>
<rect x="554" y="593" width="1" height="30" fill="#c0c0c0"/>
<rect x="562" y="589" width="1" height="34" fill="#c0c0c0"/>
<rect x="570" y="586" width="1" height="37" fill="#c0c0c0"/>
<rect x="578" y="582" width="1" height="41" fill="#c0c0c0"/>
<rect x="586" y="578" width="1" height="45" fill="#c0c0c0"/>
<rect x="594" y="573" width="1" height="50" fill="#c0c0c0"/>
<rect x="602" y="572" width="1" height="51" fill="#c0c0c0"/>
<rect x="610" y="570" width="1" height="53" fill="#c0c0c0"/>
<rect x="618" y="570" width="1" height="53" fill="#c0c0c0"/>
<rect x="626" y="573" width="1" height="50" fill="#c0c0c0"/>
<rect x="634" y="575" width="1" height="48" fill="#c0c0c0"/>
<rect x="642" y="570" width="1" height="53" fill="#c0c0c0"/>
<rect x="650" y="569" width="1" height="54" fill="#c0c0c0"/>
<rect x="658" y="570" width="1" height="53" fill="#c0c0c0"/>
<rect x="666" y="572" width="1" height="51" fill="#c0c0c0"/>
<rect x="674" y="576" width="1" height="47" fill="#c0c0c0"/>
<rect x="682" y="581" width="1" height="42" fill="#c0c0c0"/>
<rect x="690" y="585" width="1" height="38" fill="#c0c0c0"/>
<rect x="698" y="587" width="1" height="36" fill="#c0c0c0"/>
<rect x="706" y="589" width="1" height="34" fill="#c0c0c0"/>
<rect x="714" y="591" width="1" height="32" fill="#c0c0c0"/>
<rect x="722" y="595" width="1" height="28" fill="#c0c0c0"/>
<rect x="730" y="598" width="1" height="25" fill="#c0c0c0"/>
<rect x="738" y="600" width="1" height="23" fill="#c0c0c0"/>
<rect x="746" y="598" width="1" height="25" fill="#c0c0c0"/>
<rect x="754" y="598" width="1" height="25" fill="#c0c0c0"/>
<rect x="762" y="599" width="1" height="24" fill="#c0c0c0"/>
<rect x="770" y="599" width="1" height="24" fill="#c0c0c0"/>
<rect x="778" y="598" width="1" height="25" fill="#c0c0c0"/>
<rect x="786" y="597" width="1" height="26" fill="#c0c0c0"/>
<rect x="794" y="600" width="1" height="23" fill="#c0c0c0"/>
<rect x="802" y="602" width="1" height="21" fill="#c0c0c0"/>
<rect x="810" y="605" width="1" height="18" fill="#c0c0c0"/>
<rect x="818" y="607" width="1" height="16" fill="#c0c0c0"/>
<rect x="826" y="613" width="1" height="10" fill="#c0c0c0"/>
<rect x="834" y="618" width="1" height="5" fill="#c0c0c0"/>
<rect x="842" y="621" width="1" height="2" fill="#c0c0c0"/>
<rect x="850" y="622" width="1" height="1" fill="#c0c0c0"/>
<rect x="858" y="622" width="1" height="6" fill="#c0c0c0"/>
<rect x="866" y="622" width="1" height="6" fill="#c0c0c0"/>
<rect x="874" y="622" width="1" height="5" fill="#c0c0c0"/>
<rect x="882" y="622" width="1" height="2" fill="#c0c0c0"/>
<rect x="890" y="622" width="1" height="1" fill="#c0c0c0"/>
<rect x="898" y="622" width="1" height="1" fill="#c0c0c0"/>
<rect x="906" y="622" width="1" height="1" fill="#c0c0c0"/>
<rect x="914" y="622" width="1" height="1" fill="#c0c0c0"/>
<rect x="922" y="620" width="1" height="3" fill="#c0c0c0"/>
<rect x="930" y="620" width="1" height="3" fill="#c0c0c0"/>
<rect x="938" y="617" width="1" height="6" fill="#c0c0c0"/>
<rect x="946" y="616" width="1" height="7" fill="#c0c0c0"/>
<rect x="954" y="611" width="1" height="12" fill="#c0c0c0"/>
<rect x="962" y="607" width="1" height="16" fill="#c0c0c0"/>
<rect x="970" y="600" width="1" height="23" fill="#c0c0c0"/>
<rect x="978" y="594" width="1" height="29" fill="#c0c0c0"/>
<rect x="986" y="592" width="1" height="31" fill="#c0c0c0"/>
<rect x="994" y="590" width="1" height="33" fill="#c0c0c0"/>
<rect x="1002" y="590" width="1" height="33" fill="#c0c0c0"/>
<rect x="1010" y="590" width="1" height="33" fill="#c0c0c0"/>
<rect x="1018" y="592" width="1" height="31" fill="#c0c0c0"/>
<rect x="1026" y="598" width="1" height="25" fill="#c0c0c0"/>
<rect x="1034" y="602" width="1" height="21" fill="#c0c0c0"/>
<rect x="1042" y="606" width="1" height="17" fill="#c0c0c0"/>
<rect x="1050" y="613" width="1" height="10" fill="#c0c0c0"/>
<rect x="1058" y="620" width="1" height="3" fill="#c0c0c0"/>
<rect x="1066" y="622" width="1" height="1" fill="#c0c0c0"/>
<rect x="1074" y="622" width="1" height="4" fill="#c0c0c0"/>
<rect x="1082" y="622" width="1" height="11" fill="#c0c0c0"/>
<rect x="1090" y="622" width="1" height="17" fill="#c0c0c0"/>
<rect x="1098" y="622" width="1" height="20" fill="#c0c0c0"/>
<rect x="1106" y="622" width="1" height="21" fill="#c0c0c0"/>
<rect x="1114" y="622" width="1" height="24" fill="#c0c0c0"/>
<rect x="1122" y="622" width="1" height="27" fill="#c0c0c0"/>
<rect x="1130" y="622" width="1" height="26" fill="#c0c0c0"/>
<rect x="1138" y="622" width="1" height="24" fill="#c0c0c0"/>
<rect x="1146" y="622" width="1" height="27" fill="#c0c0c0"/>
<rect x="1154" y="622" width="1" height="29" fill="#c0c0c0"/>
<rect x="1162" y="622" width="1" height="32" fill="#c0c0c0"/>
<rect x="1170" y="622" width="1" height="33" fill="#c0c0c0"/>
<rect x="1178" y="622" width="1" height="37" fill="#c0c0c0"/>
<rect x="1186" y="622" width="1" height="44" fill="#c0c0c0"/>
<rect x="1194" y="622" width="1" height="47" fill="#c0c0c0"/>
<rect x="1202" y="622" width="1" height="53" fill="#c0c0c0"/>
<rect x="1210" y="622" width="1" height="55" fill="#c0c0c0"/>
<rect x="1218" y="622" width="1" height="57" fill="#c0c0c0"/>
<rect x="1226" y="622" width="1" height="54" fill="#c0c0c0"/>
<rect x="1234" y="622" width="1" height="51" fill="#c0c0c0"/>
<rect x="1242" y="622" width="1" height="48" fill="#c0c0c0"/>
<rect x="1250" y="622" width="1" height="45" fill="#c0c0c0"/>
<rect x="1258" y="622" width="1" height="45" fill="#c0c0c0"/>
<rect x="1266" y="622" width="1" height="44" fill="#c0c0c0"/>
<rect x="1274" y="622" width="1" height="43" fill="#c0c0c0"/>
<rect x="1282" y="622" width="1" height="41" fill="#c0c0c0"/>
<rect x="1290" y="622" width="1" height="39" fill="#c0c0c0"/>
<rect x="1298" y="622" width="1" height="36" fill="#c0c0c0"/>
<rect x="1306" y="622" width="1" height="34" fill="#c0c0c0"/>
<rect x="1314" y="622" width="1" height="31" fill="#c0c0c0"/>
<rect x="1322" y="622" width="1" height="33" fill="#c0c0c0"/>
<rect x="1330" y="622" width="1" height="35" fill="#c0c0c0"/>
<rect x="1338" y="622" width="1" height="33" fill="#c0c0c0"/>
<rect x="1346" y="622" width="1" height="33" fill="#c0c0c0"/>
<rect x="1354" y="622" width="1" height="33" fill="#c0c0c0"/>
<rect x="1362" y="622" width="1" height="33" fill="#c0c0c0"/>
<rect x="1370" y="622" width="1" height="32" fill="#c0c0c0"/>
<rect x="1378" y="622" width="1" height="33" fill="#c0c0c0"/>
<rect x="1386" y="622" width="1" height="34" fill="#c0c0c0"/>
<rect x="1394" y="622" width="1" height="33" fill="#c0c0c0"/>
<rect x="1402" y="622" width="1" height="28" fill="#c0c0c0"/>
<rect x="1410" y="622" width="1" height="26" fill="#c0c0c0"/>
<rect x="1418" y="622" width="1" height="22" fill="#c0c0c0"/>
<rect x="1426" y="622" width="1" height="18" fill="#c0c0c0"/>
<rect x="1434" y="622" width="1" height="15" fill="#c0c0c0"/>
<rect x="1442" y="622" width="1" height="12" fill="#c0c0c0"/>
<rect x="1450" y="622" width="1" height="12" fill="#c0c0c0"/>
<rect x="1458" y="622" width="1" height="11" fill="#c0c0c0"/>
<rect x="1466" y="622" width="1" height="9" fill="#c0c0c0"/>
<rect x="1474" y="622" width="1" height="6" fill="#c0c0c0"/>
<rect x="1482" y="622" width="1" height="2" fill="#c0c0c0"/>
<rect x="1490" y="621" width="1" height="2" fill="#c0c0c0"/>
<rect x="1498" y="620" width="1" height="3" fill="#c0c0c0"/>
<rect x="1506" y="619" width="1" height="4" fill="#c0c0c0"/>
<rect x="1514" y="620" width="1" height="3" fill="#c0c0c0"/>
<rect x="1522" y="620" width="1" height="3" fill="#c0c0c0"/>
<rect x="1530" y="619" width="1" height="4" fill="#c0c0c0"/>
<rect x="1538" y="620" width="1" height="3" fill="#c0c0c0"/>
<rect x="1546" y="622" width="1" height="2" fill="#c0c0c0"/>
<rect x="1554" y="622" width="1" height="1" fill="#c0c0c0"/>
<rect x="1562" y="622" width="1" height="4" fill="#c0c0c0"/>
<rect x="1570" y="622" width="1" height="7" fill="#c0c0c0"/>
<rect x="1578" y="622" width="1" height="8" fill="#c0c0c0"/>
<rect x="1586" y="622" width="1" height="10" fill="#c0c0c0"/>
<rect x="1594" y="622" width="1" height="11" fill="#c0c0c0"/>
<rect x="1602" y="622" width="1" height="11" fill="#c0c0c0"/>
<rect x="1610" y="622" width="1" height="15" fill="#c0c0c0"/>
<rect x="1618" y="622" width="1" height="16" fill="#c0c0c0"/>
<rect x="1626" y="622" width="1" height="17" fill="#c0c0c0"/>
<rect x="1634" y="622" width="1" height="17" fill="#c0c0c0"/>
<rect x="1642" y="622" width="1" height="12" fill="#c0c0c0"/>
<rect x="1650" y="622" width="1" height="8" fill="#c0c0c0"/>
<rect x="1658" y="622" width="1" height="4" fill="#c0c0c0"/>
<rect x="1666" y="622" width="1" height="1" fill="#c0c0c0"/>
</g>
<g clip-path="url(#cd)" fill="none" shape-rendering="crispEdges"><polyline points="2.5,601.8 10.5,603.5 18.5,604.4 26.5,605.8 34.5,607.0 42.5,607.9 50.5,608.7 58.5,609.9 66.5,610.8 74.5,611.3 82.5,611.3 90.5,611.1 98.5,610.5 106.5,610.3 114.5,610.3 122.5,610.3 130.5,610.4 138.5,611.0 146.5,611.2 154.5,611.3 162.5,612.0 170.5,612.1 178.5,612.0 186.5,611.3 194.5,610.3 202.5,609.3 210.5,608.1 218.5,607.0 226.5,606.2 234.5,605.5 242.5,605.3 250.5,605.4 258.5,606.2 266.5,607.0 274.5,608.1 282.5,609.3 290.5,610.9 298.5,613.0 306.5,615.5 314.5,617.5 322.5,619.2 330.5,621.4 338.5,623.0 346.5,624.6 354.5,625.8 362.5,626.7 370.5,627.1 378.5,627.3 386.5,626.8 394.5,625.6 402.5,624.1 410.5,623.0 418.5,622.0 426.5,620.8 434.5,620.1 442.5,619.3 450.5,618.9 458.5,618.3 466.5,618.1 474.5,617.8 482.5,617.3 490.5,617.1 498.5,616.8 506.5,616.5 514.5,614.9 522.5,614.3 530.5,612.7 538.5,610.0 546.5,608.1 554.5,606.5 562.5,603.2 570.5,600.0 578.5,596.6 586.5,593.4 594.5,589.5 602.5,585.7 610.5,582.1 618.5,579.7 626.5,577.4 634.5,575.5 642.5,573.8 650.5,572.3 658.5,571.3 666.5,571.2 674.5,571.5 682.5,572.9 690.5,574.5 698.5,576.0 706.5,578.0 714.5,579.8 722.5,582.4 730.5,586.0 738.5,589.1 746.5,592.0 754.5,593.7 762.5,595.2 770.5,596.2 778.5,597.1 786.5,598.0 794.5,598.6 802.5,599.2 810.5,599.9 818.5,600.9 826.5,602.3 834.5,604.1 842.5,606.6 850.5,609.5 858.5,612.6 866.5,615.8 874.5,618.9 882.5,620.8 890.5,622.6 898.5,623.7 906.5,624.5 914.5,624.5 922.5,624.1 930.5,623.3 938.5,622.2 946.5,621.1 954.5,619.7 962.5,617.6 970.5,615.0 978.5,612.3 986.5,608.7 994.5,605.1 1002.5,602.2 1010.5,599.3 1018.5,596.5 1026.5,595.1 1034.5,594.4 1042.5,595.3 1050.5,597.0 1058.5,600.1 1066.5,603.6 1074.5,607.7 1082.5,612.0 1090.5,617.5 1098.5,622.5 1106.5,626.8 1114.5,631.1 1122.5,635.1 1130.5,638.0 1138.5,640.7 1146.5,643.3 1154.5,645.3 1162.5,646.9 1170.5,648.6 1178.5,650.4 1186.5,652.7 1194.5,654.6 1202.5,657.4 1210.5,661.1 1218.5,664.4 1226.5,667.0 1234.5,669.8 1242.5,671.1 1250.5,671.9 1258.5,672.3 1266.5,671.6 1274.5,670.4 1282.5,669.2 1290.5,667.3 1298.5,665.4 1306.5,663.4 1314.5,661.3 1322.5,659.9 1330.5,658.8 1338.5,657.6 1346.5,656.6 1354.5,655.8 1362.5,655.3 1370.5,654.7 1378.5,654.6 1386.5,655.3 1394.5,655.3 1402.5,654.3 1410.5,653.5 1418.5,652.3 1426.5,650.7 1434.5,648.7 1442.5,646.8 1450.5,644.5 1458.5,641.9 1466.5,638.9 1474.5,636.5 1482.5,634.4 1490.5,631.9 1498.5,629.3 1506.5,627.1 1514.5,625.5 1522.5,624.0 1530.5,622.6 1538.5,621.5 1546.5,620.7 1554.5,620.5 1562.5,621.1 1570.5,622.0 1578.5,623.0 1586.5,624.1 1594.5,625.6 1602.5,627.3 1610.5,629.0 1618.5,630.8 1626.5,632.5 1634.5,633.9 1642.5,634.5 1650.5,634.4 1658.5,633.6 1666.5,632.6" stroke="#ff0000" stroke-dasharray="3,3"/></g>
<text x="6" y="574" textLength="119" lengthAdjust="spacingAndGlyphs">MACD(12,26,9) -1.42 -23.94</text>
<g clip-path="url(#cr)" shape-rendering="crispEdges" fill="none">
<line x1="3" y1="724.5" x2="1683" y2="724.5" stroke="#c0c0c0" stroke-dasharray="3,3"/>
<line x1="3" y1="772.5" x2="1683" y2="772.5" stroke="#c0c0c0" stroke-dasharray="3,3"/>
<polyline points="2.5,739.8 10.5,742.8 18.5,741.9 26.5,739.8 34.5,743.7 42.5,739.8 50.5,737.9 58.5,738.8 66.5,735.9 74.5,731.2 82.5,727.7 90.5,730.8 98.5,733.8 106.5,737.3 114.5,747.5 122.5,751.6 130.5,746.7 138.5,746.2 146.5,732.9 154.5,725.8 162.5,743.2 170.5,733.4 178.5,730.1 186.5,730.1 194.5,731.8 202.5,732.2 210.5,732.2 218.5,738.2 226.5,732.8 234.5,743.3 242.5,742.1 250.5,744.8 258.5,744.8 266.5,746.0 274.5,755.5 282.5,754.2 290.5,757.4 298.5,766.7 306.5,764.8 314.5,758.6 322.5,755.2 330.5,757.8 338.5,751.9 346.5,752.3 354.5,751.9 362.5,741.2 370.5,737.3 378.5,740.1 386.5,744.5 394.5,738.3 402.5,736.4 410.5,735.7 418.5,752.0 426.5,743.6 434.5,746.1 442.5,745.7 450.5,746.1 458.5,740.5 466.5,739.2 474.5,734.4 482.5,736.8 490.5,739.3 498.5,739.8 506.5,730.9 514.5,730.0 522.5,723.6 530.5,717.8 538.5,713.5 546.5,720.3 554.5,717.5 562.5,713.4 570.5,713.4 578.5,710.6 586.5,707.6 594.5,705.4 602.5,720.2 610.5,717.3 618.5,720.9 626.5,728.7 634.5,724.5 642.5,718.8 650.5,718.8 658.5,721.2 666.5,731.3 674.5,736.1 682.5,742.5 690.5,740.4 698.5,736.0 706.5,735.0 714.5,737.3 722.5,744.7 730.5,743.4 738.5,741.8 746.5,731.3 754.5,734.8 762.5,739.0 770.5,736.7 778.5,732.1 786.5,733.0 794.5,743.1 802.5,745.4 810.5,746.2 818.5,745.7 826.5,759.2 834.5,759.4 842.5,756.8 850.5,762.2 858.5,757.4 866.5,753.2 874.5,746.3 882.5,745.4 890.5,741.8 898.5,745.5 906.5,751.6 914.5,745.7 922.5,741.3 930.5,746.7 938.5,737.8 946.5,740.5 954.5,732.3 962.5,729.5 970.5,723.1 978.5,721.6 986.5,731.4 994.5,730.8 1002.5,734.2 1010.5,731.4 1018.5,740.9 1026.5,750.3 1034.5,748.5 1042.5,751.3 1050.5,759.6 1058.5,762.7 1066.5,754.4 1074.5,757.1 1082.5,764.5 1090.5,766.7 1098.5,762.1 1106.5,758.9 1114.5,763.2 1122.5,764.4 1130.5,755.6 1138.5,754.0 1146.5,763.7 1154.5,763.9 1162.5,766.0 1170.5,763.7 1178.5,771.5 1186.5,775.1 1194.5,771.6 1202.5,776.6 1210.5,770.4 1218.5,772.5 1226.5,761.6 1234.5,759.9 1242.5,760.2 1250.5,758.9 1258.5,764.4 1266.5,764.9 1274.5,763.3 1282.5,762.3 1290.5,761.0 1298.5,759.5 1306.5,758.9 1314.5,758.9 1322.5,768.2 1330.5,770.8 1338.5,763.3 1346.5,761.9 1354.5,767.7 1362.5,761.2 1370.5,765.5 1378.5,766.1 1386.5,766.8 1394.5,765.2 1402.5,751.7 1410.5,751.7 1418.5,749.1 1426.5,752.1 1434.5,745.4 1442.5,747.3 1450.5,754.2 1458.5,751.0 1466.5,747.6 1474.5,742.5 1482.5,738.5 1490.5,737.0 1498.5,744.2 1506.5,743.0 1514.5,749.7 1522.5,747.5 1530.5,744.9 1538.5,744.9 1546.5,753.8 1554.5,754.1 1562.5,761.5 1570.5,762.4 1578.5,758.4 1586.5,761.4 1594.5,759.9 1602.5,756.5 1610.5,769.5 1618.5,759.9 1626.5,759.9 1634.5,756.7 1642.5,742.0 1650.5,740.3 1658.5,739.6 1666.5,741.8" stroke="#1e90ff"/>
</g>
<text x="6" y="699" textLength="68.5" lengthAdjust="spacingAndGlyphs">RSI(14) 55.8556</text>
<g shape-rendering="crispEdges" fill="#000">
<rect x="1683" y="28" width="3" height="1"/>
<rect x="1683" y="61" width="3" height="1"/>
<rect x="1683" y="94" width="3" height="1"/>
<rect x="1683" y="127" width="3" height="1"/>
<rect x="1683" y="160" width="3" height="1"/>
<rect x="1683" y="193" width="3" height="1"/>
<rect x="1683" y="226" width="3" height="1"/>
<rect x="1683" y="259" width="3" height="1"/>
<rect x="1683" y="292" width="3" height="1"/>
<rect x="1683" y="325" width="3" height="1"/>
<rect x="1683" y="358" width="3" height="1"/>
<rect x="1683" y="391" width="3" height="1"/>
<rect x="1683" y="424" width="3" height="1"/>
<rect x="1683" y="457" width="3" height="1"/>
<rect x="1683" y="490" width="3" height="1"/>
<rect x="1683" y="523" width="3" height="1"/>
<rect x="1683" y="556" width="3" height="1"/>
<rect x="1683" y="563" width="2" height="1"/><rect x="1683" y="622" width="3" height="1"/><rect x="1683" y="683" width="3" height="1"/>
<rect x="1683" y="688" width="3" height="1"/><rect x="1683" y="808" width="3" height="1"/>
</g>
<text x="1689" y="32" textLength="28" lengthAdjust="spacingAndGlyphs">5918.0</text>
<text x="1689" y="65" textLength="28" lengthAdjust="spacingAndGlyphs">5850.0</text>
<text x="1689" y="98" textLength="28" lengthAdjust="spacingAndGlyphs">5782.0</text>
<text x="1689" y="131" textLength="28" lengthAdjust="spacingAndGlyphs">5714.0</text>
<text x="1689" y="164" textLength="28" lengthAdjust="spacingAndGlyphs">5646.0</text>
<text x="1689" y="197" textLength="28" lengthAdjust="spacingAndGlyphs">5578.0</text>
<text x="1689" y="230" textLength="28" lengthAdjust="spacingAndGlyphs">5510.0</text>
<text x="1689" y="263" textLength="28" lengthAdjust="spacingAndGlyphs">5442.0</text>
<text x="1689" y="296" textLength="28" lengthAdjust="spacingAndGlyphs">5372.0</text>
<text x="1689" y="329" textLength="28" lengthAdjust="spacingAndGlyphs">5304.0</text>
<text x="1689" y="362" textLength="28" lengthAdjust="spacingAndGlyphs">5236.0</text>
<text x="1689" y="395" textLength="28" lengthAdjust="spacingAndGlyphs">5168.0</text>
<text x="1689" y="428" textLength="28" lengthAdjust="spacingAndGlyphs">5100.0</text>
<text x="1689" y="461" textLength="28" lengthAdjust="spacingAndGlyphs">5032.0</text>
<text x="1689" y="494" textLength="28" lengthAdjust="spacingAndGlyphs">4964.0</text>
<text x="1689" y="527" textLength="28" lengthAdjust="spacingAndGlyphs">4896.0</text>
<text x="1689" y="560" textLength="28" lengthAdjust="spacingAndGlyphs">4828.0</text>
<rect x="1685" y="266" width="36" height="11" fill="#ff0000" shape-rendering="crispEdges"/>
<text x="1689" y="275" textLength="28" lengthAdjust="spacingAndGlyphs" style="fill:#fff">5415.0</text>
<rect x="1685" y="328" width="36" height="11" fill="#ff0000" shape-rendering="crispEdges"/>
<text x="1689" y="337" textLength="28" lengthAdjust="spacingAndGlyphs" style="fill:#fff">5285.0</text>
<rect x="1685" y="428" width="36" height="11" fill="#32cd32" shape-rendering="crispEdges"/>
<text x="1689" y="437" textLength="28" lengthAdjust="spacingAndGlyphs" style="fill:#fff">5080.0</text>
<rect x="1685" y="439" width="36" height="9" fill="#000" shape-rendering="crispEdges"/>
<text x="1689" y="447" textLength="28" lengthAdjust="spacingAndGlyphs" style="fill:#fff">5063.2</text>
<rect x="1685" y="527" width="36" height="11" fill="#4169e1" shape-rendering="crispEdges"/>
<text x="1689" y="536" textLength="28" lengthAdjust="spacingAndGlyphs" style="fill:#fff">4875.0</text>
<text x="1687" y="572" textLength="28" lengthAdjust="spacingAndGlyphs">139.86</text>
<text x="1687" y="626" textLength="18" lengthAdjust="spacingAndGlyphs">0.00</text>
<text x="1687" y="681" textLength="31" lengthAdjust="spacingAndGlyphs">-143.82</text>
<text x="1687" y="697" textLength="15" lengthAdjust="spacingAndGlyphs">100</text>
<text x="1686" y="728.6" textLength="10" lengthAdjust="spacingAndGlyphs">70</text>
<text x="1686" y="776" textLength="10" lengthAdjust="spacingAndGlyphs">30</text>
<text x="1687" y="806">0</text>
<g shape-rendering="crispEdges" fill="#000">
<rect x="2" y="810" width="1" height="3"/>
<rect x="66" y="810" width="1" height="3"/>
<rect x="130" y="810" width="1" height="3"/>
<rect x="194" y="810" width="1" height="3"/>
<rect x="258" y="810" width="1" height="3"/>
<rect x="322" y="810" width="1" height="3"/>
<rect x="386" y="810" width="1" height="3"/>
<rect x="450" y="810" width="1" height="3"/>
<rect x="514" y="810" width="1" height="3"/>
<rect x="578" y="810" width="1" height="3"/>
<rect x="642" y="810" width="1" height="3"/>
<rect x="706" y="810" width="1" height="3"/>
<rect x="770" y="810" width="1" height="3"/>
<rect x="834" y="810" width="1" height="3"/>
<rect x="898" y="810" width="1" height="3"/>
<rect x="962" y="810" width="1" height="3"/>
<rect x="1026" y="810" width="1" height="3"/>
<rect x="1090" y="810" width="1" height="3"/>
<rect x="1154" y="810" width="1" height="3"/>
<rect x="1218" y="810" width="1" height="3"/>
<rect x="1282" y="810" width="1" height="3"/>
<rect x="1346" y="810" width="1" height="3"/>
<rect x="1410" y="810" width="1" height="3"/>
<rect x="1474" y="810" width="1" height="3"/>
<rect x="1538" y="810" width="1" height="3"/>
<rect x="1602" y="810" width="1" height="3"/>
<rect x="1666" y="810" width="1" height="3"/>
</g>
<text x="1" y="822" textLength="54.2" lengthAdjust="spacingAndGlyphs">16 Nov 2020</text>
<text x="65" y="822" textLength="56.8" lengthAdjust="spacingAndGlyphs">20 Nov 05:00</text>
<text x="129" y="822" textLength="56.8" lengthAdjust="spacingAndGlyphs">26 Nov 05:00</text>
<text x="193" y="822" textLength="50.2" lengthAdjust="spacingAndGlyphs">2 Dec 05:00</text>
<text x="257" y="822" textLength="50.2" lengthAdjust="spacingAndGlyphs">8 Dec 05:00</text>
<text x="321" y="822" textLength="55.3" lengthAdjust="spacingAndGlyphs">14 Dec 05:00</text>
<text x="385" y="822" textLength="55.3" lengthAdjust="spacingAndGlyphs">18 Dec 05:00</text>
<text x="449" y="822" textLength="55.3" lengthAdjust="spacingAndGlyphs">24 Dec 05:00</text>
<text x="513" y="822" textLength="55.3" lengthAdjust="spacingAndGlyphs">30 Dec 05:00</text>
<text x="577" y="822" textLength="48.1" lengthAdjust="spacingAndGlyphs">6 Jan 05:00</text>
<text x="641" y="822" textLength="53.2" lengthAdjust="spacingAndGlyphs">12 Jan 05:00</text>
<text x="705" y="822" textLength="53.2" lengthAdjust="spacingAndGlyphs">18 Jan 05:00</text>
<text x="769" y="822" textLength="53.2" lengthAdjust="spacingAndGlyphs">22 Jan 05:00</text>
<text x="833" y="822" textLength="53.2" lengthAdjust="spacingAndGlyphs">28 Jan 05:00</text>
<text x="897" y="822" textLength="50.2" lengthAdjust="spacingAndGlyphs">3 Feb 05:00</text>
<text x="961" y="822" textLength="50.2" lengthAdjust="spacingAndGlyphs">9 Feb 05:00</text>
<text x="1025" y="822" textLength="55.4" lengthAdjust="spacingAndGlyphs">22 Feb 05:00</text>
<text x="1089" y="822" textLength="55.4" lengthAdjust="spacingAndGlyphs">26 Feb 05:00</text>
<text x="1153" y="822" textLength="50.2" lengthAdjust="spacingAndGlyphs">4 Mar 05:00</text>
<text x="1217" y="822" textLength="55.4" lengthAdjust="spacingAndGlyphs">10 Mar 05:00</text>
<text x="1281" y="822" textLength="55.4" lengthAdjust="spacingAndGlyphs">16 Mar 05:00</text>
<text x="1345" y="822" textLength="55.4" lengthAdjust="spacingAndGlyphs">22 Mar 05:00</text>
<text x="1409" y="822" textLength="55.4" lengthAdjust="spacingAndGlyphs">26 Mar 05:00</text>
<text x="1473" y="822" textLength="48.9" lengthAdjust="spacingAndGlyphs">1 Apr 05:00</text>
<text x="1537" y="822" textLength="48.9" lengthAdjust="spacingAndGlyphs">8 Apr 05:00</text>
<text x="1601" y="822" textLength="54.2" lengthAdjust="spacingAndGlyphs">14 Apr 05:00</text>
<text x="1665" y="822" textLength="54.2" lengthAdjust="spacingAndGlyphs">20 Apr 05:00</text>
</svg></body></html>
